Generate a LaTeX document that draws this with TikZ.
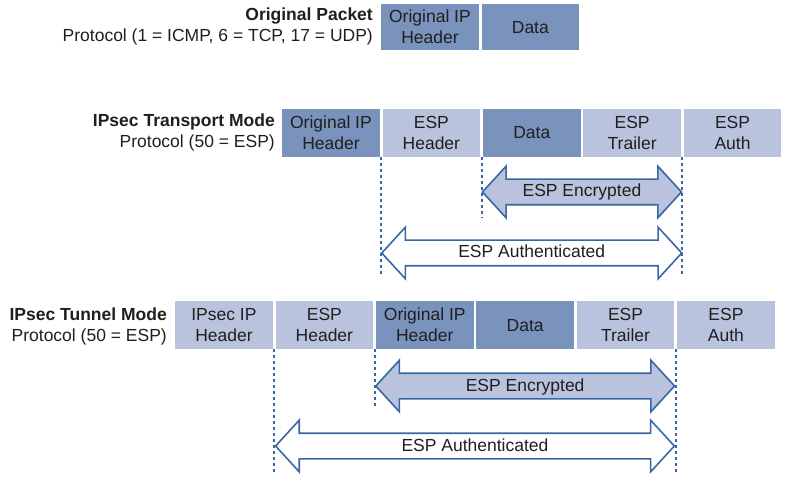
\documentclass[tikz,border=0pt]{standalone}
\usepackage{fontspec}
\setmainfont{Liberation Sans}
\usetikzlibrary{positioning, calc, shapes.arrows}
\definecolor{pktdark}{HTML}{7A93BD}
\definecolor{pktlight}{HTML}{B9C3DD}
\definecolor{espblue}{HTML}{3868A3}
\begin{document}
\begin{tikzpicture}[
      x=1bp, y=-1bp,
      every node/.style={font=\fontsize{17.5bp}{21bp}\selectfont, text=black!88},
      box/.style={anchor=north west, align=center, inner sep=0pt, minimum width=97.5bp, minimum height=48bp},
      dark/.style={box, fill=pktdark},
      light/.style={box, fill=pktlight},
      title/.style={anchor=east, align=right, inner sep=0pt},
      guide/.style={draw=espblue, line width=2bp, dash pattern=on 3bp off 3bp},
      span/.style={double arrow, draw=espblue, line width=1.6bp, inner xsep=0pt, inner ysep=4bp,
        text height=13bp, text depth=3bp, double arrow head extend=13bp, double arrow tip angle=95},
      enc/.style={span, fill=pktlight},
      auth/.style={span, fill=white}
    ]
    \useasboundingbox (0,0) rectangle (786,478);

    % original packet
    \node[title] (origlbl) at (373,26) {\textbf{Original Packet}\\Protocol (1 = ICMP, 6 = TCP, 17 = UDP)};
    \node[dark, minimum height=46bp] (oip) at (381,4) {Original IP\\Header};
    \node[dark, minimum height=46bp, right=2.5bp of oip] (odata) {Data};

    % transport mode
    \node[title] (translbl) at (275,132) {\textbf{IPsec Transport Mode}\\Protocol (50 = ESP)};
    \node[dark] (tip) at (282,108.5) {Original IP\\Header};
    \node[light, right=2.5bp of tip] (tesph) {ESP\\Header};
    \node[dark, right=2.5bp of tesph] (tdata) {Data};
    \node[light, right=2.5bp of tdata] (ttrail) {ESP\\Trailer};
    \node[light, right=2.5bp of ttrail] (tauthf) {ESP\\Auth};

    \coordinate (tg1) at ($(tip.south east)!0.5!(tesph.south west)$);
    \coordinate (tg2) at ($(tesph.south east)!0.5!(tdata.south west)$);
    \coordinate (tg3) at ($(ttrail.south east)!0.5!(tauthf.south west)$);
    \draw[guide] (tg1) -- ++(0,118);
    \draw[guide] (tg2) -- ++(0,61);
    \draw[guide] (tg3) -- ++(0,118);

    \node[enc, minimum height=199bp, minimum width=50bp] (tenc) at ($(tg2 |- 0,192)!0.5!(tg3 |- 0,192)$) {ESP Encrypted};
    \node[auth, minimum height=300bp, minimum width=50bp] (tauth) at ($(tg1 |- 0,253)!0.5!(tg3 |- 0,253)$) {ESP Authenticated};

    % tunnel mode
    \node[title] (tunlbl) at (167,326) {\textbf{IPsec Tunnel Mode}\\Protocol (50 = ESP)};
    \node[light] (nip) at (175,301) {IPsec IP\\Header};
    \node[light, right=2.5bp of nip] (nesph) {ESP\\Header};
    \node[dark, right=2.5bp of nesph] (noip) {Original IP\\Header};
    \node[dark, right=2.5bp of noip] (ndata) {Data};
    \node[light, right=2.5bp of ndata] (ntrail) {ESP\\Trailer};
    \node[light, right=2.5bp of ntrail] (nauthf) {ESP\\Auth};

    \coordinate (ng1) at ($(nip.south east)!0.5!(nesph.south west)$);
    \coordinate (ng2) at ($(nesph.south east)!0.5!(noip.south west)$);
    \coordinate (ng3) at ($(ntrail.south east)!0.5!(nauthf.south west)$);
    \draw[guide] (ng1) -- ++(0,123);
    \draw[guide] (ng2) -- ++(0,59);
    \draw[guide] (ng3) -- ++(0,123);

    \node[enc, minimum height=298.75bp, minimum width=50bp] (nenc) at ($(ng2 |- 0,386)!0.5!(ng3 |- 0,386)$) {ESP Encrypted};
    \node[auth, minimum height=398.75bp, minimum width=50bp] (nauth) at ($(ng1 |- 0,446)!0.5!(ng3 |- 0,446)$) {ESP Authenticated};
  \end{tikzpicture}
\end{document}
